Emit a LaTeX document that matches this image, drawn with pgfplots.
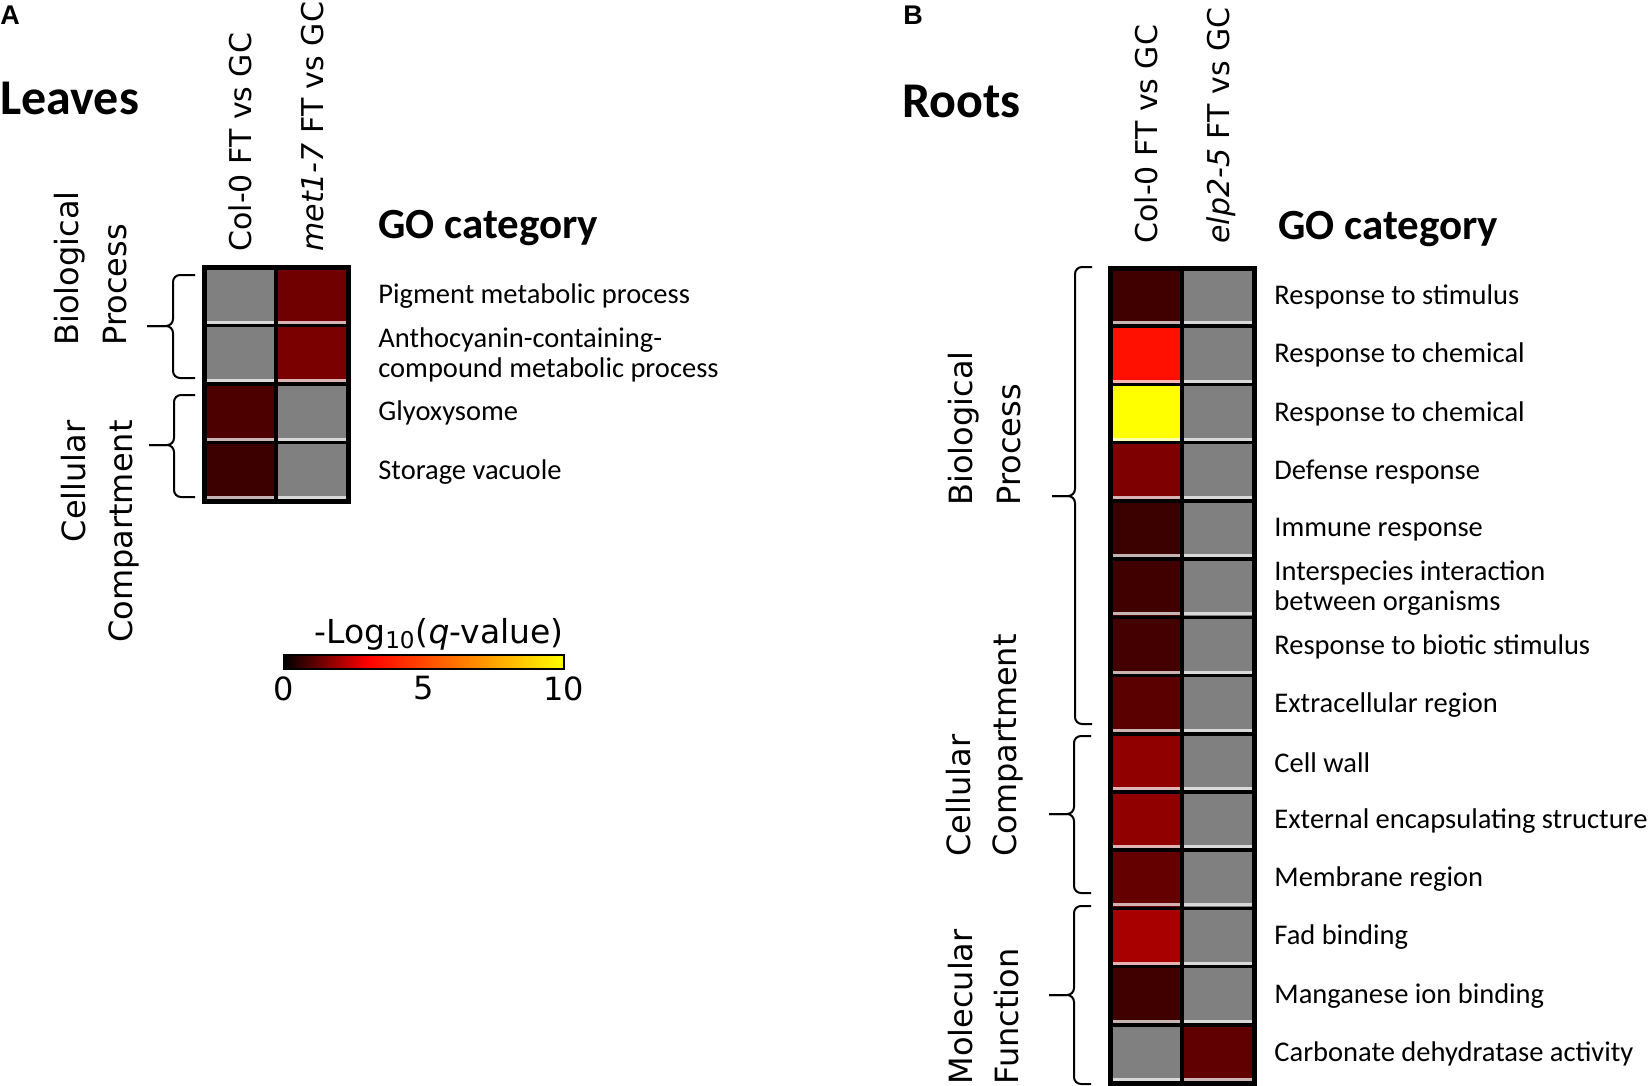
\documentclass[border=0pt]{standalone}
\usepackage{fontspec}
\setmainfont{Carlito}
\newfontfamily\dv{DejaVu Sans}
\newfontfamily\lib{Liberation Sans}
\usepackage{pgfplots}
\pgfplotsset{compat=1.18}

\newcommand\hdr{\dv\fontsize{15}{16}\selectfont}
\newcommand\grp{\dv\fontsize{16}{17}\selectfont}
\newcommand\lab{\fontsize{14.25}{15}\selectfont}
\newcommand\ttl{\bfseries\fontsize{25}{25}\selectfont}
\newcommand\goc{\bfseries\fontsize{21.5}{22}\selectfont}
\newcommand\pan{\lib\bfseries\fontsize{13.5}{13.5}\selectfont}

% heatmap cells: -2 = not significant (grey), 0..10 = -log10(q)
\pgfplotstableread{
x y c
0 0 -2
1 0 1.32
0 1 -2
1 1 1.44
0 2 0.90
1 2 -2
0 3 0.72
1 3 -2
}\leaves

\pgfplotstableread{
x y c
0 0 0.75
1 0 -2
0 1 3.44
1 1 -2
0 2 10
1 2 -2
0 3 1.50
1 3 -2
0 4 0.70
1 4 -2
0 5 0.75
1 5 -2
0 6 0.80
1 6 -2
0 7 1.06
1 7 -2
0 8 1.70
1 8 -2
0 9 1.70
1 9 -2
0 10 1.19
1 10 -2
0 11 1.98
1 11 -2
0 12 0.75
1 12 -2
0 13 -2
1 13 1.13
}\roots

\pgfplotsset{
  heat/.style={
    scale only axis, axis on top,
    width=72pt,
    xmin=-0.5, xmax=1.5, y dir=reverse,
    colormap={gomap}{rgb255(0pt)=(128,128,128) rgb255(10pt)=(128,128,128)
      rgb255(20pt)=(0,0,0) rgb255(50pt)=(255,0,0) rgb255(120pt)=(255,255,0)},
    point meta min=-2, point meta max=10,
    axis line style={line width=2.5pt},
    tick style={draw=none},
    xtick={0,1}, xticklabel pos=right,
    xticklabel style={rotate=90, anchor=west, inner ysep=0pt, text depth=0pt, font=\hdr},
    yticklabel pos=right,
    yticklabel style={anchor=west, align=left, inner ysep=0pt, font=\lab},
  },
  cell/.style={matrix plot*, point meta=explicit, mesh/cols=2},
}
\tikzset{
  hilite/.style={white, opacity=0.7, line width=1.5pt},
  sep/.style={black, line width=1.8pt},
  brace/.style={line width=1pt, rounded corners=3.5pt},
}

\begin{document}
\begin{tikzpicture}[x=0.5pt, y=-0.5pt]
\useasboundingbox (0,0) rectangle (1650,1086);

% ---------------- A: leaves ----------------
\node[anchor=base west, inner sep=0pt, font=\pan] at (0,25) {A};
\node[anchor=base west, inner sep=0pt, font=\ttl] at (0,115) {Leaves};
\node[anchor=base west, inner sep=0pt, font=\goc] at (378,238) {GO category};

\begin{axis}[heat, at={(102pt,-250.5pt)}, anchor=south west,
    height=117pt, ymin=-0.5, ymax=3.5,
    xticklabel style={inner xsep=7.5pt},
    xticklabels={Col-0 FT vs GC, \textit{met1-7} FT vs GC},
    ytick={0,1,2,3},
    yticklabel style={inner xsep=15pt},
    yticklabels={Pigment metabolic process,
      {Anthocyanin-containing-\\compound metabolic process},
      Glyoxysome, Storage vacuole}]
\addplot[cell] table[meta=c] {\leaves};
\pgfplotsinvokeforeach{0.5,1.5,2.5,3.5}{
  \draw[hilite] ([yshift=1.7pt]axis cs:-0.5,#1) -- ([yshift=1.7pt]axis cs:1.5,#1);
}
\pgfplotsinvokeforeach{0.5,1.5,2.5}{
  \draw[sep] (axis cs:-0.5,#1) -- (axis cs:1.5,#1);
}
\draw[sep] (axis cs:0.5,-0.5) -- (axis cs:0.5,3.5);
\end{axis}

% group braces
\draw[brace] (195,275) -- (173,275) -- (173,326) -- (147,326);
\draw[brace] (195,378) -- (173,378) -- (173,326) -- (147,326);
\draw[brace] (195,395) -- (174,395) -- (174,445) -- (149,445);
\draw[brace] (195,497) -- (174,497) -- (174,445) -- (149,445);

\node[rotate=90, anchor=base west, inner sep=0pt, font=\grp] at (78,346) {Biological};
\node[rotate=90, anchor=base west, inner sep=0pt, font=\grp] at (126,346) {Process};
\node[rotate=90, anchor=base east, inner sep=0pt, font=\grp] at (85,420) {Cellular};
\node[rotate=90, anchor=base east, inner sep=0pt, font=\grp] at (132,420) {Compartment};

% colour bar
\node[anchor=base, inner sep=0pt, font=\dv\fontsize{16.5}{16.5}\selectfont] at (439,643)
  {-Log\textsubscript{10}(\textit{q}-value)};
\begin{axis}[at={(142pt,-319pt)}, anchor=north west, scale only axis,
    width=140pt, height=7pt, hide axis, xmin=0, xmax=10, ymin=0, ymax=1,
    colormap={hot}{rgb255(0pt)=(0,0,0) rgb255(30pt)=(255,0,0) rgb255(100pt)=(255,255,0)},
    point meta min=0, point meta max=10,
    colorbar horizontal,
    colorbar style={at={(parent axis.north west)}, anchor=north west,
      width=140pt, height=7pt,
      axis line style={line width=1pt},
      xtick={0,5,10}, xticklabels={0,5,10}, major tick length=0pt,
      xticklabel style={inner sep=0pt, anchor=north, yshift=-3.5pt,
        font=\dv\fontsize{16}{16}\selectfont}}]
\addplot[draw=none] coordinates {(0,0)};
\end{axis}

% ---------------- B: roots ----------------
\node[anchor=base west, inner sep=0pt, font=\pan] at (903,25) {B};
\node[anchor=base west, inner sep=0pt, font=\ttl] at (902,118) {Roots};
\node[anchor=base west, inner sep=0pt, font=\goc] at (1278,239) {GO category};

\begin{axis}[heat, at={(555pt,-541.5pt)}, anchor=south west,
    height=407.5pt, ymin=-0.5, ymax=13.5,
    xticklabel style={inner xsep=12pt},
    xticklabels={Col-0 FT vs GC, \textit{elp2-5} FT vs GC},
    ytick={0,...,13},
    yticklabel style={inner xsep=10pt},
    yticklabels={Response to stimulus, Response to chemical, Response to chemical,
      Defense response, Immune response,
      {Interspecies interaction\\between organisms},
      Response to biotic stimulus, Extracellular region, Cell wall,
      External encapsulating structure, Membrane region, Fad binding,
      Manganese ion binding, Carbonate dehydratase activity}]
\addplot[cell] table[meta=c] {\roots};
\pgfplotsinvokeforeach{0.5,1.5,2.5,3.5,4.5,5.5,6.5,7.5,8.5,9.5,10.5,11.5,12.5,13.5}{
  \draw[hilite] ([yshift=1.7pt]axis cs:-0.5,#1) -- ([yshift=1.7pt]axis cs:1.5,#1);
}
\pgfplotsinvokeforeach{0.5,1.5,2.5,3.5,4.5,5.5,6.5,7.5,8.5,9.5,10.5,11.5,12.5}{
  \draw[sep] (axis cs:-0.5,#1) -- (axis cs:1.5,#1);
}
\draw[sep] (axis cs:0.5,-0.5) -- (axis cs:0.5,13.5);
\end{axis}

\draw[brace] (1092,267) -- (1075,267) -- (1075,496) -- (1052,496);
\draw[brace] (1092,724) -- (1075,724) -- (1075,496) -- (1052,496);
\draw[brace] (1091,736) -- (1074,736) -- (1074,814) -- (1049,814);
\draw[brace] (1091,893) -- (1074,893) -- (1074,814) -- (1049,814);
\draw[brace] (1091,906) -- (1074,906) -- (1074,995) -- (1049,995);
\draw[brace] (1091,1084) -- (1074,1084) -- (1074,995) -- (1049,995);

\node[rotate=90, anchor=base west, inner sep=0pt, font=\grp] at (972,506) {Biological};
\node[rotate=90, anchor=base west, inner sep=0pt, font=\grp] at (1020,506) {Process};
\node[rotate=90, anchor=base west, inner sep=0pt, font=\grp] at (970,857) {Cellular};
\node[rotate=90, anchor=base west, inner sep=0pt, font=\grp] at (1016,857) {Compartment};
\node[rotate=90, anchor=base west, inner sep=0pt, font=\grp] at (972,1085) {Molecular};
\node[rotate=90, anchor=base west, inner sep=0pt, font=\grp] at (1018,1085) {Function};
\end{tikzpicture}
\end{document}
